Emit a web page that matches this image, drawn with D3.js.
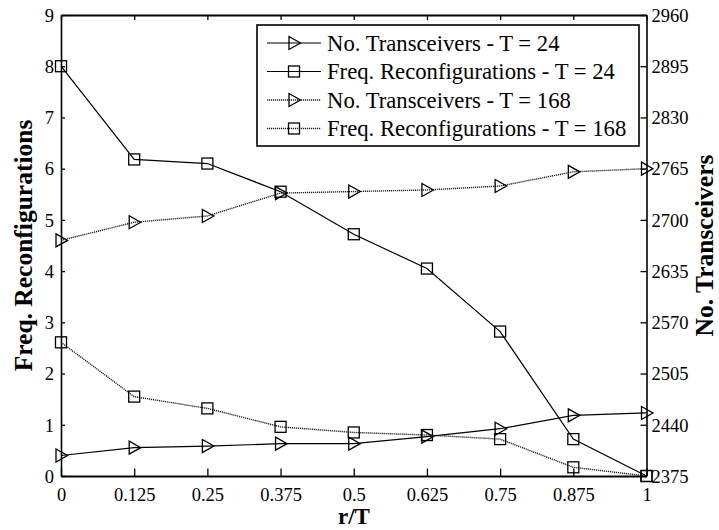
<!DOCTYPE html>
<html>
<head>
<meta charset="utf-8">
<script src="https://cdn.jsdelivr.net/npm/d3@7"></script>
<style>
  html, body { margin: 0; padding: 0; background: #fff; }
  svg { display: block; }
  text { font-family: "Liberation Serif", "Times New Roman", serif; fill: #000; }
</style>
</head>
<body>
<svg id="chart" width="719" height="530"></svg>
<script>
// r/T ratios on the horizontal axis
const ratios = [0, 0.125, 0.25, 0.375, 0.5, 0.625, 0.75, 0.875, 1];
const ratioLabels = ["0", "0.125", "0.25", "0.375", "0.5", "0.625", "0.75", "0.875", "1"];

// Frequency reconfigurations (left axis)
const freqT24  = [8.0, 6.18, 6.1, 5.55, 4.72, 4.05, 2.82, 0.72, 0];
const freqT168 = [2.61, 1.55, 1.32, 0.96, 0.85, 0.8, 0.72, 0.17, 0];

// Number of transceivers (right axis)
const trxT24  = [2401, 2411, 2413, 2416, 2416, 2425, 2435, 2452, 2455];
const trxT168 = [2674, 2697, 2705, 2734, 2736, 2738, 2743, 2761, 2765];

const leftTicks  = [0, 1, 2, 3, 4, 5, 6, 7, 8, 9];
const rightTicks = [2375, 2440, 2505, 2570, 2635, 2700, 2765, 2830, 2895, 2960];

const legendLabels = [
  "No. Transceivers - T = 24",
  "Freq. Reconfigurations - T = 24",
  "No. Transceivers - T = 168",
  "Freq. Reconfigurations - T = 168"
];

const svg = d3.select("#chart");
const L = 61, R = 646.5, T = 15, B = 476;

const x  = d3.scaleLinear().domain([0, 1]).range([L, R]);
const yL = d3.scaleLinear().domain([0, 9]).range([B, T]);
const yR = d3.scaleLinear().domain([2375, 2960]).range([B, T]);

// Axes
const fmtX = (d, i) => ratioLabels[i];
const axBottom = svg.append("g").attr("transform", `translate(0,${B})`)
  .call(d3.axisBottom(x).tickValues(ratios).tickFormat(fmtX).tickSizeInner(-7.5).tickSizeOuter(0).tickPadding(12));
const axTop = svg.append("g").attr("transform", `translate(0,${T})`)
  .call(d3.axisTop(x).tickValues(ratios).tickFormat("").tickSizeInner(-5).tickSizeOuter(0));
const axLeft = svg.append("g").attr("transform", `translate(${L},0)`)
  .call(d3.axisLeft(yL).tickValues(leftTicks).tickFormat(d3.format("d")).tickSizeInner(-4).tickSizeOuter(0).tickPadding(7));
const axRight = svg.append("g").attr("transform", `translate(${R},0)`)
  .call(d3.axisRight(yR).tickValues(rightTicks).tickFormat(d3.format("d")).tickSizeInner(-6).tickSizeOuter(0).tickPadding(5));

[axBottom, axTop, axLeft, axRight].forEach(g => {
  g.selectAll("text").style("font-size", "18.5px").attr("fill", "#000");
  g.selectAll("line").attr("stroke", "#000").attr("stroke-width", 1.3);
});
axBottom.select(".domain").attr("stroke", "#000").attr("stroke-width", 2.2);
axTop.select(".domain").attr("stroke", "#000").attr("stroke-width", 2.2);
axLeft.select(".domain").attr("stroke", "#000").attr("stroke-width", 1.6);
axRight.select(".domain").attr("stroke", "#000").attr("stroke-width", 1.6);
axLeft.selectAll("text").attr("dy", "0.34em");
axRight.selectAll("text").attr("dy", "0.34em");

// Series: solid = T 24, dotted = T 168
const series = [
  { vals: trxT24,   y: yR, marker: "tri", dash: null },
  { vals: freqT24,  y: yL, marker: "sq",  dash: null },
  { vals: trxT168,  y: yR, marker: "tri", dash: "1.2,0.8" },
  { vals: freqT168, y: yL, marker: "sq",  dash: "1.2,0.8" }
];

const triPath = "M-5,-6.5L6.5,0L-5,6.5Z";
function drawMarker(g, kind, cx, cy) {
  if (kind === "tri") {
    g.append("path").attr("d", triPath).attr("transform", `translate(${cx},${cy})`)
      .attr("fill", "none").attr("stroke", "#000").attr("stroke-width", 1.3);
  } else {
    g.append("rect").attr("x", cx - 5.5).attr("y", cy - 5.5).attr("width", 11).attr("height", 11)
      .attr("fill", "none").attr("stroke", "#000").attr("stroke-width", 1.3);
  }
}

const plot = svg.append("g");
series.forEach(s => {
  const line = d3.line().x((d, i) => x(ratios[i])).y(d => s.y(d));
  plot.append("path").datum(s.vals).attr("d", line)
    .attr("fill", "none").attr("stroke", s.dash ? "#222" : "#000")
    .attr("stroke-width", s.dash ? 1.4 : 1.2)
    .attr("stroke-dasharray", s.dash);
  s.vals.forEach((v, i) => drawMarker(plot, s.marker, x(ratios[i]), s.y(v)));
});

// Legend
const lg = svg.append("g");
lg.append("rect").attr("x", 257).attr("y", 25).attr("width", 382).attr("height", 121)
  .attr("fill", "#fff").attr("stroke", "#000").attr("stroke-width", 1.6);
const rowY = [43, 71.5, 100, 128.5];
series.forEach((s, i) => {
  lg.append("line").attr("x1", 267).attr("x2", 321).attr("y1", rowY[i]).attr("y2", rowY[i])
    .attr("stroke", s.dash ? "#222" : "#000").attr("stroke-width", s.dash ? 1.4 : 1.2)
    .attr("stroke-dasharray", s.dash);
  drawMarker(lg, s.marker, 294, rowY[i]);
  lg.append("text").attr("x", 327).attr("y", rowY[i] + 7.5)
    .style("font-size", "22.7px").text(legendLabels[i]);
});

// Axis titles
svg.append("text").attr("transform", `translate(32,${(T + B) / 2}) rotate(-90)`)
  .attr("text-anchor", "middle").style("font-size", "25.5px").style("font-weight", "bold")
  .text("Freq. Reconfigurations");
svg.append("text").attr("transform", `translate(713,${(T + B) / 2}) rotate(-90)`)
  .attr("text-anchor", "middle").style("font-size", "25.5px").style("font-weight", "bold")
  .text("No. Transceivers");
svg.append("text").attr("x", 354).attr("y", 524)
  .attr("text-anchor", "middle").style("font-size", "23px").style("font-weight", "bold")
  .text("r/T");
</script>
</body>
</html>
